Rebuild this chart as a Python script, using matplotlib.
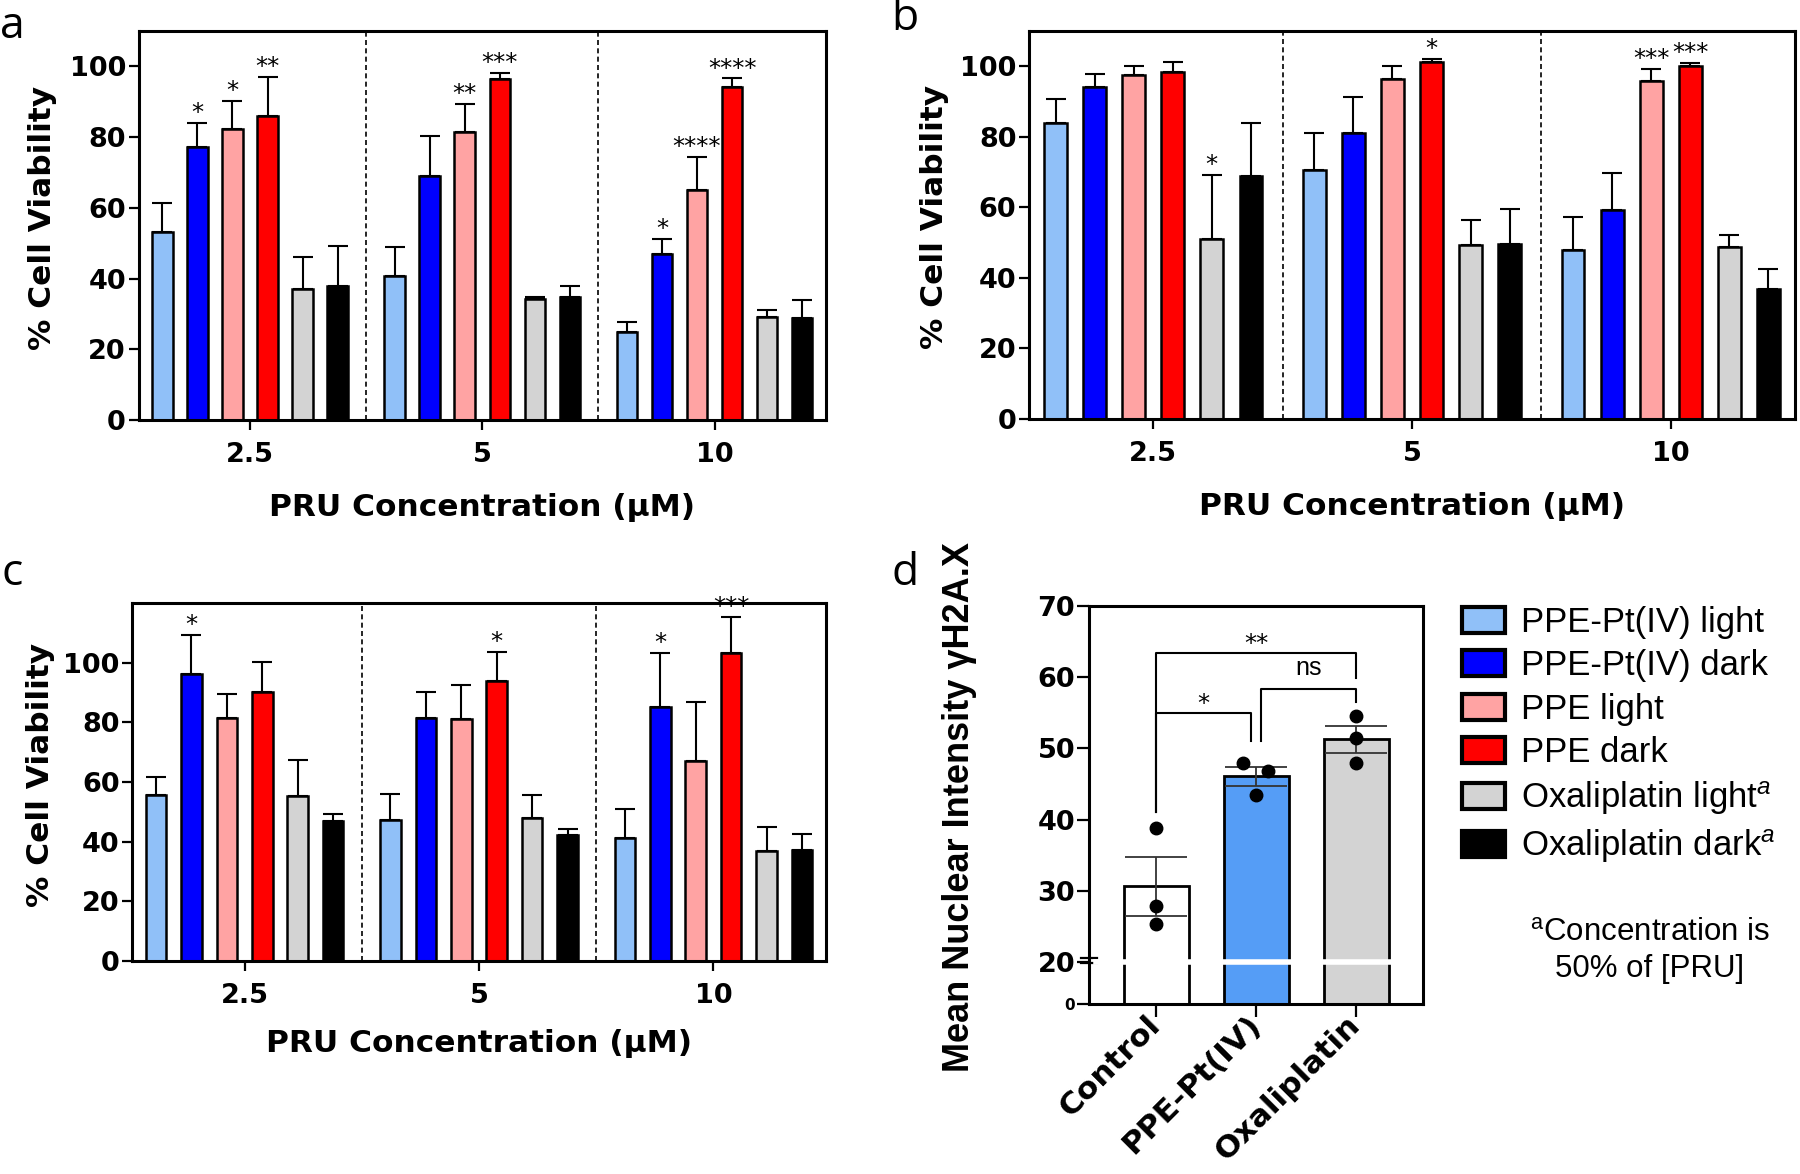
import numpy as np
import matplotlib
matplotlib.use('Agg')
import matplotlib.pyplot as plt
import matplotlib.transforms as mtransforms
from matplotlib.patches import Patch

plt.rcParams['font.family'] = 'DejaVu Sans'
plt.rcParams['mathtext.fontset'] = 'custom'
plt.rcParams['mathtext.rm'] = 'Liberation Sans'
plt.rcParams['mathtext.it'] = 'Liberation Sans:italic'

# ---- data ----
concentrations = ['2.5', '5', '10']
series_names = ['PPE-Pt(IV) light', 'PPE-Pt(IV) dark', 'PPE light', 'PPE dark',
                'Oxaliplatin light', 'Oxaliplatin dark']
colors = ['#90c0f8', '#0000ff', '#ffa3a3', '#ff0000', '#d3d3d3', '#000000']

# rows = series, columns = concentration
a_mean = [[53.3, 40.7, 24.9], [77.3, 69.1, 46.9], [82.3, 81.3, 65.0],
          [85.9, 96.5, 94.1], [37.1, 34.2, 29.1], [37.9, 34.8, 28.9]]
a_err = [[8.2, 8.1, 2.8], [6.8, 11.1, 4.4], [7.9, 8.1, 9.3],
         [11.2, 1.7, 2.5], [8.9, 0.7, 2.1], [11.2, 3.2, 4.9]]
a_stars = [['', '', ''], ['*', '', '*'], ['*', '**', '****'],
           ['**', '***', '****'], ['', '', ''], ['', '', '']]

b_mean = [[83.8, 70.6, 47.8], [94.0, 81.2, 59.2], [97.5, 96.5, 95.7],
          [98.4, 101.1, 100.0], [51.0, 49.4, 48.8], [69.0, 49.7, 36.8]]
b_err = [[6.9, 10.5, 9.6], [3.7, 10.0, 10.5], [2.5, 3.5, 3.5],
         [2.8, 0.9, 0.9], [18.2, 7.0, 3.3], [15.0, 9.8, 5.8]]
b_stars = [['', '', ''], ['', '', ''], ['', '', '***'],
           ['', '*', '***'], ['*', '', ''], ['', '', '']]

c_mean = [[55.6, 47.3, 41.2], [96.1, 81.3, 85.2], [81.3, 81.0, 67.1],
          [90.1, 93.7, 103.2], [55.2, 48.0, 36.9], [46.8, 42.2, 37.1]]
c_err = [[6.1, 8.8, 9.8], [13.1, 8.9, 18.1], [8.2, 11.4, 19.8],
         [10.2, 9.8, 12.2], [12.1, 7.8, 8.0], [2.5, 1.9, 5.4]]
c_stars = [['', '', ''], ['*', '', '*'], ['', '', ''],
           ['', '*', '***'], ['', '', ''], ['', '', '']]

d_groups = ['Control', 'PPE-Pt(IV)', 'Oxaliplatin']
d_points = [[38.8, 27.8, 25.3], [48.0, 46.8, 43.5], [54.5, 51.4, 48.0]]
d_colors = ['#ffffff', '#559df6', '#d3d3d3']
d_jitter = [[0, 0, 0], [-0.13, 0.12, 0.0], [0, 0, 0]]
# (left x, right x, bar height, left leg end, right leg end, label)
d_brackets = [(0, 0.95, 55.0, 41.0, 51.0, '*'),
              (1.05, 2, 58.3, 51.0, 56.5, 'ns'),
              (0, 2, 63.4, 41.0, 59.9, '**')]

W, H = 1800, 1174
fig = plt.figure(figsize=(18, 11.74), dpi=100)


def px_axes(left, top, right, bottom):
    return fig.add_axes([left / W, 1 - bottom / H, (right - left) / W, (bottom - top) / H])


def viability_panel(ax, means, errs, stars, ytop, ylab_x, xlab_y):
    n = len(series_names)
    x = np.arange(len(concentrations))
    pitch = 0.151
    for i in range(n):
        xs = x + (i - (n - 1) / 2) * pitch
        ax.bar(xs, means[i], width=0.088, color=colors[i], edgecolor='black',
               linewidth=1.8, zorder=2)
        ax.errorbar(xs, means[i], yerr=[np.zeros(len(x)), errs[i]], fmt='none',
                    ecolor='black', elinewidth=1.5, capsize=7, capthick=1.5, zorder=3)
        for xx, m, e, s in zip(xs, means[i], errs[i], stars[i]):
            if s:
                t = ax.annotate(s, (xx, m + e), xytext=(0, 2), textcoords='offset points',
                                ha='center', va='baseline', fontsize=17.5)
                t.set_clip_on(True)
    for sep in [0.5, 1.5]:
        ax.axvline(sep, color='black', lw=1.2, ls=(0, (3, 2)), zorder=1)
    ax.set_xlim(-0.48, 2.48)
    ax.set_ylim(0, ytop)
    ax.set_yticks(range(0, 101, 20))
    ax.set_yticklabels([str(v) for v in range(0, 101, 20)], fontweight='bold', fontsize=19.5)
    ax.set_xticks(x)
    ax.set_xticklabels(concentrations, fontweight='bold', fontsize=19.5)
    ax.tick_params(axis='both', direction='out', length=7, width=1.6)
    ax.tick_params(axis='y', pad=2)
    ax.tick_params(axis='x', pad=9)
    for sp in ax.spines.values():
        sp.set_linewidth(2.2)
    ax.set_ylabel('% Cell Viability', fontweight='bold', fontsize=22.5)
    ax.yaxis.set_label_coords(ylab_x, 0.52)
    ax.set_xlabel('PRU Concentration (µM)', fontweight='bold', fontsize=22.5)
    ax.xaxis.set_label_coords(0.5, xlab_y)


ax_a = px_axes(138.5, 31, 826, 420)
viability_panel(ax_a, a_mean, a_err, a_stars, 110, -0.1185, -0.187)
ax_b = px_axes(1029, 31, 1795, 419)
viability_panel(ax_b, b_mean, b_err, b_stars, 110, -0.104, -0.187)
ax_c = px_axes(132, 603, 826, 961)
viability_panel(ax_c, c_mean, c_err, c_stars, 120, -0.111, -0.19)

# ---- panel d with broken y axis ----
def fwd(y):
    y = np.asarray(y, dtype=float)
    return np.where(y >= 20, y, 14.1 + y * 0.295)


def inv(v):
    v = np.asarray(v, dtype=float)
    return np.where(v >= 20, v, (v - 14.1) / 0.295)


ax_d = px_axes(1089, 606, 1423, 1004)
ax_d.set_yscale('function', functions=(fwd, inv))
ax_d.set_ylim(0, 70)
ax_d.set_xlim(-0.67, 2.67)
xd = np.arange(len(d_groups))
d_mean = [np.mean(p) for p in d_points]
d_sem = [np.std(p, ddof=1) / np.sqrt(len(p)) for p in d_points]
ax_d.bar(xd, d_mean, width=0.65, color=d_colors, edgecolor='black', linewidth=2, zorder=2)
ax_d.axhline(20, xmin=0.02, xmax=0.98, color='white', lw=4, zorder=2.5)
ax_d.errorbar(xd, d_mean, yerr=d_sem, fmt='none', ecolor='#333333', elinewidth=1.3,
              capsize=22, capthick=1.3, zorder=4)
for i, pts in enumerate(d_points):
    ax_d.plot(i + np.array(d_jitter[i]), pts, 'o', color='black', ms=9, zorder=5)

for x1, x2, yb, yl, yr, lab in d_brackets:
    ax_d.plot([x1, x1, x2, x2], [yl, yb, yb, yr], color='black', lw=1.5, zorder=3)
    if lab == 'ns':
        ax_d.text((x1 + x2) / 2, yb + 2.0, lab, ha='center', va='baseline', fontsize=18,
                  family=['Liberation Sans Narrow', 'Liberation Sans'])
    else:
        ax_d.text((x1 + x2) / 2, yb + 0.3, lab, ha='center', va='baseline', fontsize=17.5)

brk = mtransforms.blended_transform_factory(ax_d.transAxes, ax_d.transData)
for yy in [20.6, 19.6]:
    ax_d.plot([-0.025, 0.025], [yy, yy], color='black', lw=1.6, transform=brk, clip_on=False)

d_ticks = [0, 20, 30, 40, 50, 60, 70]
ax_d.set_yticks(d_ticks)
ax_d.set_yticklabels([str(v) for v in d_ticks], fontweight='bold', fontsize=19.5)
ax_d.get_yticklabels()[0].set_fontsize(11)
ax_d.set_xticks(xd)
ax_d.set_xticklabels(d_groups, fontweight='bold', fontsize=22.5, rotation=45,
                     ha='right', va='center', rotation_mode='anchor')
ax_d.tick_params(axis='both', direction='out', length=9, width=1.6)
ax_d.tick_params(axis='y', pad=1)
ax_d.tick_params(axis='x', pad=3)
for sp in ax_d.spines.values():
    sp.set_linewidth(2.2)
ax_d.set_ylabel('Mean Nuclear Intensity γH2A.X', fontweight='bold', fontsize=26,
                family='Liberation Sans')
ax_d.yaxis.set_label_coords(-0.335, 0.495)

# legend and footnote
handles = [Patch(facecolor=c, edgecolor='black', linewidth=3) for c in colors]
labels = series_names[:4] + [series_names[4] + '$^{a}$', series_names[5] + '$^{a}$']
fig.legend(handles, labels, loc='upper left', bbox_to_anchor=(1462 / W, 1 - 606 / H),
           frameon=False, prop={'family': 'Liberation Sans', 'size': 25},
           handlelength=1.25, handleheight=0.78, handletextpad=0.45, labelspacing=0.3,
           borderpad=0, borderaxespad=0)
fig.text(1650 / W, 1 - 951 / H, '$^{\\mathrm{a}}$Concentration is\n50% of [PRU]',
         ha='center', va='center', ma='center', fontsize=22.5, family='Liberation Sans',
         linespacing=1.25)

# panel letters
for letter, lx, ly in [('a', 0, 38), ('b', 891, 30), ('c', 2, 585), ('d', 891, 585)]:
    fig.text(lx / W, 1 - ly / H, letter, fontsize=32, family='Open Sans', va='baseline')

fig.savefig('out.png', dpi=100)
